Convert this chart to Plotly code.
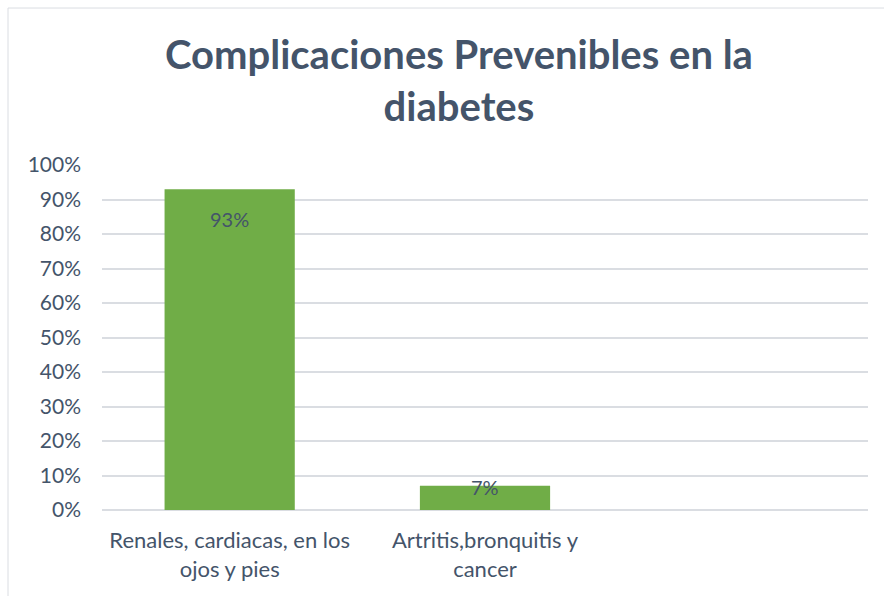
import plotly.graph_objects as go

categories = ["Renales, cardiacas, en los<br>ojos y pies", "Artritis,bronquitis y<br>cancer", ""]
values = [93, 7]
tick_values = [0, 10, 20, 30, 40, 50, 60, 70, 80, 90, 100]
tick_labels = [f"{v}%" for v in tick_values]
title_text = "Complicaciones Prevenibles en la<br>diabetes"

TEXT = "#44546A"
GRID = "#DADDE2"
FONT = "Lato, 'Open Sans', sans-serif"

xpos = list(range(len(values)))

fig = go.Figure()
fig.add_trace(go.Bar(
    x=xpos, y=values, width=0.51,
    marker=dict(color="#70AD47", line=dict(width=0)),
    hoverinfo="skip",
))

for x, v in zip(xpos, values):
    shift = -16 if v > 20 else 13
    fig.add_annotation(x=x, y=v, text=f"{v}%", showarrow=False,
                       yanchor="top", yshift=shift,
                       font=dict(family=FONT, size=20, color=TEXT))

fig.add_shape(type="rect", xref="paper", yref="paper",
              x0=-0.1227, x1=1.2, y0=-0.6, y1=1.455,
              line=dict(color=GRID, width=1), layer="below")

fig.update_layout(
    width=884, height=596,
    margin=dict(l=102, r=16, t=165, b=86),
    paper_bgcolor="white", plot_bgcolor="white",
    showlegend=False,
    title=dict(text=title_text, x=0.466, xanchor="center", xref="paper",
               yref="container", y=0.885, yanchor="bottom",
               font=dict(family=FONT, size=40, color=TEXT, weight="bold")),
    font=dict(family=FONT, size=20, color=TEXT),
    xaxis=dict(range=[-0.5, 2.5], tickvals=[0, 1, 2], ticktext=categories,
               showgrid=False, zeroline=False, showline=False, ticks="",
               ticklabelstandoff=15,
               tickfont=dict(family=FONT, size=22, color=TEXT)),
    yaxis=dict(range=[0, 100], tickvals=tick_values, ticktext=tick_labels,
               showgrid=True, gridcolor=GRID, gridwidth=1.5,
               zeroline=True, zerolinecolor=GRID, zerolinewidth=1.5,
               showline=False, ticks="", ticklabelstandoff=20,
               tickfont=dict(family=FONT, size=21, color=TEXT)),
)

fig.write_html("out.html")
